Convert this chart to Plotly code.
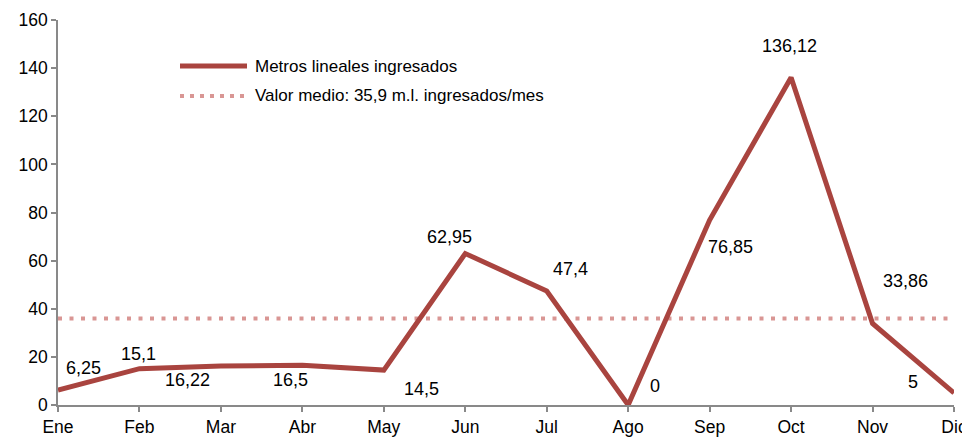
import plotly.graph_objects as go

months = ["Ene", "Feb", "Mar", "Abr", "May", "Jun", "Jul", "Ago", "Sep", "Oct", "Nov", "Dic"]
metros = [6.25, 15.1, 16.22, 16.5, 14.5, 62.95, 47.4, 0, 76.85, 136.12, 33.86, 5]
mean_value = 35.9
y_ticks = [0, 20, 40, 60, 80, 100, 120, 140, 160]
series_name = "Metros lineales ingresados"
mean_name = "Valor medio: 35,9 m.l. ingresados/mes"

# label offsets (px) mimicking the manually placed data labels
label_dx = [25, -1, -33, -12, 38, -16, 24, 27, 21, -2, 33, -41]
label_dy = [22, 15, -14, -15, -19, 17, 22, 19, -27, 31, 43, 11]

LINE_COLOR = "#A9443F"
MEAN_COLOR = "#D99694"
AXIS_COLOR = "#898989"
FONT = "Liberation Sans, Arial, sans-serif"

xs = list(range(len(months)))

fig = go.Figure()
fig.add_trace(go.Scatter(
    x=xs, y=[mean_value] * len(months), mode="lines", name=mean_name,
    line=dict(color=MEAN_COLOR, width=4, dash="4px,7.5px"), showlegend=False,
    hoverinfo="skip", cliponaxis=False))
fig.add_trace(go.Scatter(
    x=xs, y=metros, mode="lines", name=series_name,
    line=dict(color=LINE_COLOR, width=5), showlegend=False, cliponaxis=False))

def fmt(v):
    return ("%g" % v).replace(".", ",")

for i, v in enumerate(metros):
    fig.add_annotation(x=xs[i], y=v, xref="x", yref="y", text=fmt(v),
                       showarrow=False, xshift=label_dx[i], yshift=label_dy[i],
                       font=dict(family=FONT, size=18, color="#000000"))

# plot area in page pixels: x 58..954, y 20..405 (page has an 8px body margin)
PW, PH = 896, 385

def px(xp):
    return (xp - 58) / PW

def py(yp):
    return (405 - yp) / PH

# manual legend
fig.add_shape(type="line", xref="paper", yref="paper",
              x0=px(180), x1=px(247), y0=py(66), y1=py(66),
              line=dict(color=LINE_COLOR, width=5))
fig.add_shape(type="line", xref="paper", yref="paper",
              x0=px(180), x1=px(247), y0=py(96), y1=py(96),
              line=dict(color=MEAN_COLOR, width=4, dash="4px,6px"))
fig.add_annotation(xref="paper", yref="paper", x=px(253), y=py(66),
                   xanchor="left", yanchor="middle", showarrow=False, text=series_name,
                   font=dict(family=FONT, size=17, color="#000000"))
fig.add_annotation(xref="paper", yref="paper", x=px(253), y=py(96),
                   xanchor="left", yanchor="middle", showarrow=False, text=mean_name,
                   font=dict(family=FONT, size=17, color="#000000"))

fig.update_layout(
    width=962, height=429,
    margin=dict(l=50, r=16, t=12, b=32),
    paper_bgcolor="white", plot_bgcolor="white",
    font=dict(family=FONT, size=17.5, color="#000000"),
    xaxis=dict(range=[0, 11], tickvals=xs, ticktext=months, showgrid=False,
               zeroline=False, showline=True, linecolor=AXIS_COLOR, linewidth=1.5,
               ticks="outside", ticklen=5, tickcolor=AXIS_COLOR, tickwidth=1.5,
               automargin=False, tickfont=dict(family=FONT, size=17.5)),
    yaxis=dict(range=[0, 160], tickvals=y_ticks, showgrid=False, zeroline=False,
               showline=True, linecolor=AXIS_COLOR, linewidth=1.5,
               ticks="outside", ticklen=5, tickcolor=AXIS_COLOR, tickwidth=1.5,
               automargin=False, tickfont=dict(family=FONT, size=17.5)),
)

fig.write_html("out.html")
